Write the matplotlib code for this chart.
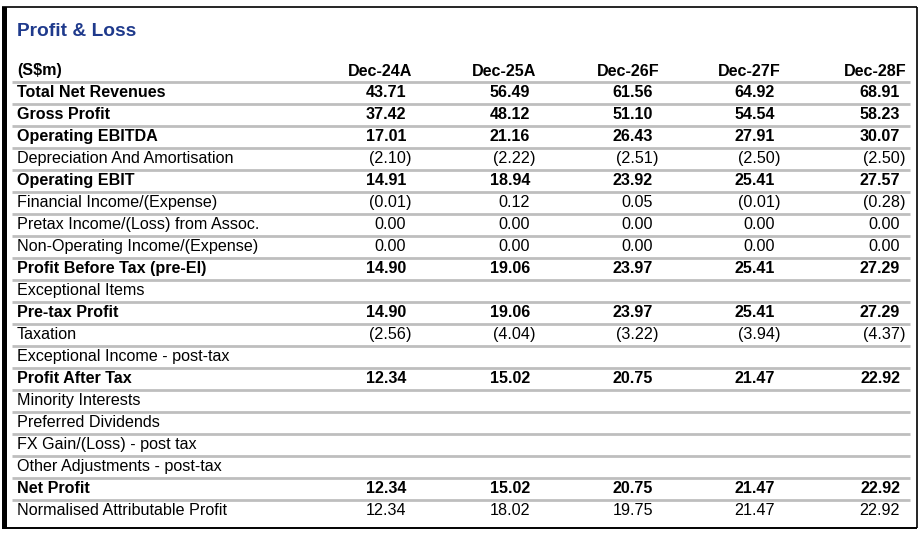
import matplotlib
matplotlib.use("Agg")
import matplotlib.pyplot as plt
from matplotlib.patches import Rectangle

plt.rcParams['font.family'] = ['Liberation Sans', 'DejaVu Sans']

# ---- data ----
title = "Profit & Loss"
unit_label = "(S$m)"
columns = ["Dec-24A", "Dec-25A", "Dec-26F", "Dec-27F", "Dec-28F"]
row_labels = [
    "Total Net Revenues", "Gross Profit", "Operating EBITDA",
    "Depreciation And Amortisation", "Operating EBIT",
    "Financial Income/(Expense)", "Pretax Income/(Loss) from Assoc.",
    "Non-Operating Income/(Expense)", "Profit Before Tax (pre-EI)",
    "Exceptional Items", "Pre-tax Profit", "Taxation",
    "Exceptional Income - post-tax", "Profit After Tax",
    "Minority Interests", "Preferred Dividends", "FX Gain/(Loss) - post tax",
    "Other Adjustments - post-tax", "Net Profit", "Normalised Attributable Profit",
]
row_bold = [True, True, True, False, True, False, False, False, True, False,
            True, False, False, True, False, False, False, False, True, False]
dec24a = [43.71, 37.42, 17.01, -2.10, 14.91, -0.01, 0.00, 0.00, 14.90, None,
          14.90, -2.56, None, 12.34, None, None, None, None, 12.34, 12.34]
dec25a = [56.49, 48.12, 21.16, -2.22, 18.94, 0.12, 0.00, 0.00, 19.06, None,
          19.06, -4.04, None, 15.02, None, None, None, None, 15.02, 18.02]
dec26f = [61.56, 51.10, 26.43, -2.51, 23.92, 0.05, 0.00, 0.00, 23.97, None,
          23.97, -3.22, None, 20.75, None, None, None, None, 20.75, 19.75]
dec27f = [64.92, 54.54, 27.91, -2.50, 25.41, -0.01, 0.00, 0.00, 25.41, None,
          25.41, -3.94, None, 21.47, None, None, None, None, 21.47, 21.47]
dec28f = [68.91, 58.23, 30.07, -2.50, 27.57, -0.28, 0.00, 0.00, 27.29, None,
          27.29, -4.37, None, 22.92, None, None, None, None, 22.92, 22.92]
series = [dec24a, dec25a, dec26f, dec27f, dec28f]

# ---- layout (pixels) ----
W, H = 922, 533
fig = plt.figure(figsize=(W / 100, H / 100), dpi=100)
ax = fig.add_axes([0, 0, 1, 1])
ax.set_xlim(0, W)
ax.set_ylim(H, 0)
ax.axis('off')

col_right = [412, 536, 659, 781, 906]   # right edge incl. closing paren
paren_w = 6
label_x = 17
header_y = 71
row0_y = 92.5
row_h = 22
fs = 11.6
line_color = '#bebebe'
line_x0, line_x1 = 12, 910

# frame
ax.plot([2, 917], [7, 7], color='black', lw=1.2, solid_capstyle='butt')
ax.plot([917, 917], [7, 527.5], color='black', lw=1.2, solid_capstyle='butt')
ax.plot([2, 917], [527.5, 527.5], color='black', lw=1.4, solid_capstyle='butt')
ax.add_patch(Rectangle((1.5, 6.5), 5, 522, color='black', lw=0))

# title
ax.text(label_x, 31, title, color='#1f3a8c', fontsize=13.8, fontweight='bold',
        va='center', ha='left')

# header
ax.text(label_x, header_y, unit_label, fontsize=fs, fontweight='bold',
        va='center', ha='left')
for c, xr in zip(columns, col_right):
    ax.text(xr, header_y, c, fontsize=fs, fontweight='bold', va='center', ha='right')

# lines
for i in range(len(row_labels)):
    y = row0_y + i * row_h - 10.5
    ax.plot([line_x0, line_x1], [y, y], color=line_color, lw=2.0,
            solid_capstyle='butt')

# rows
for i, (lab, b) in enumerate(zip(row_labels, row_bold)):
    y = row0_y + i * row_h
    w = 'bold' if b else 'normal'
    ax.text(label_x, y, lab, fontsize=fs, fontweight=w, va='center', ha='left')
    for vals, xr in zip(series, col_right):
        v = vals[i]
        if v is None:
            continue
        xn = xr - paren_w
        if v < 0:
            ax.text(xn, y, f"({abs(v):.2f}", fontsize=fs, fontweight=w,
                    va='center', ha='right')
            ax.text(xn, y, ")", fontsize=fs, fontweight=w, va='center', ha='left')
        else:
            ax.text(xn, y, f"{v:.2f}", fontsize=fs, fontweight=w,
                    va='center', ha='right')

fig.savefig("out.png", dpi=100, facecolor='white')
